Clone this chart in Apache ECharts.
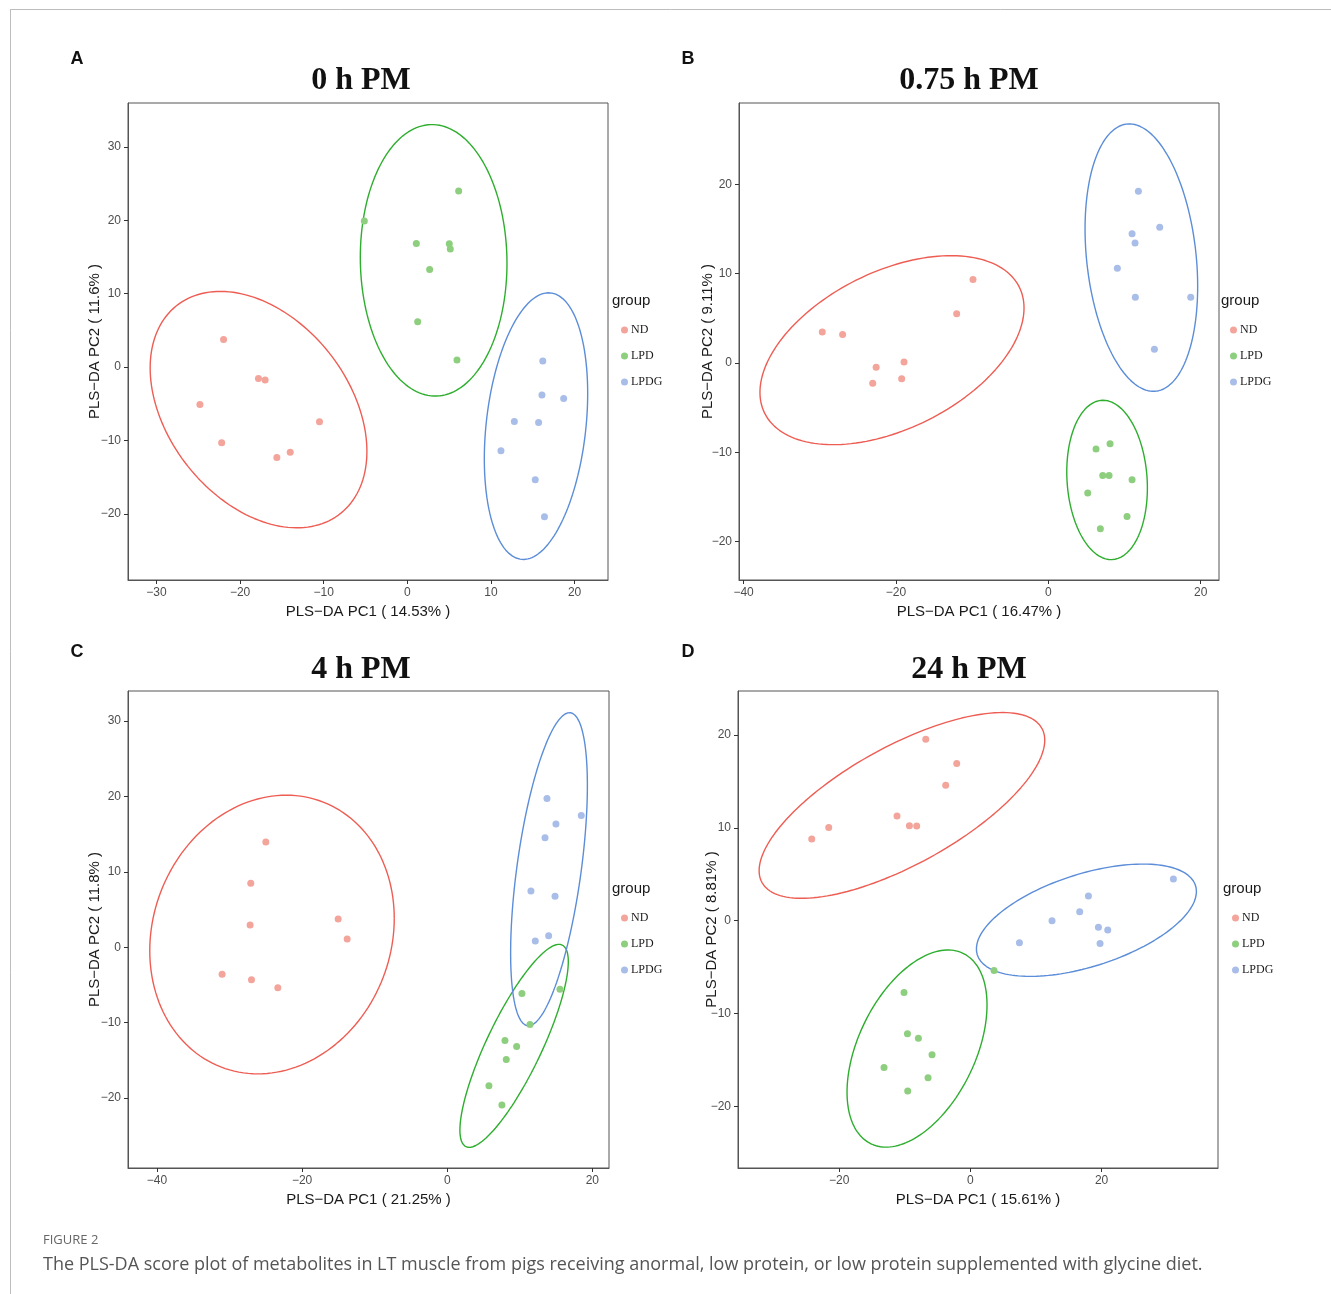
<!DOCTYPE html>
<html>
<head>
<meta charset="utf-8">
<script src="https://cdn.jsdelivr.net/npm/echarts@6/dist/echarts.min.js"></script>
<style>
html,body{margin:0;padding:0;background:#fff;}
#c{width:1331px;height:1294px;}
</style>
</head>
<body>
<div id="c"></div>
<script>
// ---------- DATA ----------
const groups = ['ND', 'LPD', 'LPDG'];
const panelTitles = ['0 h PM', '0.75 h PM', '4 h PM', '24 h PM'];
const panelLetters = ['A', 'B', 'C', 'D'];
const xNames = ['PLS\u2212DA PC1 ( 14.53% )', 'PLS\u2212DA PC1 ( 16.47% )', 'PLS\u2212DA PC1 ( 21.25% )', 'PLS\u2212DA PC1 ( 15.61% )'];
const yNames = ['PLS\u2212DA PC2 ( 11.6% )', 'PLS\u2212DA PC2 ( 9.11% )', 'PLS\u2212DA PC2 ( 11.8% )', 'PLS\u2212DA PC2 ( 8.81% )'];

// tick labels
const xTicksA = [-30, -20, -10, 0, 10, 20];
const yTicksA = [-20, -10, 0, 10, 20, 30];
const xTicksB = [-40, -20, 0, 20];
const yTicksB = [-20, -10, 0, 10, 20];
const xTicksC = [-40, -20, 0, 20];
const yTicksC = [-20, -10, 0, 10, 20, 30];
const xTicksD = [-20, 0, 20];
const yTicksD = [-20, -10, 0, 10, 20];

// axis ranges [min, max]
const xRangeA = [-33.4, 24.0], yRangeA = [-29.0, 35.97];
const xRangeB = [-40.6, 22.4], yRangeB = [-24.3, 29.1];
const xRangeC = [-44.0, 22.3], yRangeC = [-29.26, 33.97];
const xRangeD = [-35.43, 37.74], yRangeD = [-26.65, 24.75];

// Panel A: 0 h PM
const ND_A = [[-21.97, 3.77], [-17.8, -1.54], [-17.0, -1.77], [-24.8, -5.08], [-22.2, -10.3], [-15.6, -12.3], [-14.0, -11.6], [-10.5, -7.45]];
const LPD_A = [[-5.14, 19.9], [6.14, 24.0], [1.08, 16.85], [5.02, 16.8], [5.14, 16.1], [2.67, 13.3], [1.24, 6.17], [5.94, 0.95]];
const LPDG_A = [[16.2, 0.82], [16.1, -3.81], [18.7, -4.27], [12.8, -7.4], [15.7, -7.54], [11.2, -11.4], [15.3, -15.35], [16.4, -20.4]];
// Panel B: 0.75 h PM
const ND_B = [[-29.67, 3.47], [-27.0, 3.17], [-22.6, -0.49], [-23.05, -2.28], [-18.94, 0.11], [-19.25, -1.76], [-12.03, 5.52], [-9.89, 9.33]];
const LPD_B = [[8.1, -9.04], [6.26, -9.63], [7.14, -12.59], [7.97, -12.59], [10.99, -13.07], [5.17, -14.56], [10.33, -17.18], [6.83, -18.56]];
const LPDG_B = [[11.82, 19.22], [14.62, 15.19], [10.99, 14.45], [11.38, 13.44], [9.06, 10.6], [11.42, 7.35], [18.69, 7.35], [13.92, 1.53]];
// Panel C: 4 h PM
const ND_C = [[-25.0, 13.94], [-27.08, 8.47], [-27.17, 2.95], [-15.03, 3.75], [-13.79, 1.1], [-31.03, -3.57], [-26.98, -4.29], [-23.35, -5.35]];
const LPD_C = [[10.3, -6.14], [15.54, -5.56], [11.41, -10.25], [7.96, -12.37], [9.57, -13.16], [8.14, -14.88], [5.75, -18.36], [7.54, -20.92]];
const LPDG_C = [[13.75, 19.73], [18.48, 17.48], [14.99, 16.33], [13.48, 14.51], [11.54, 7.45], [14.86, 6.75], [13.98, 1.54], [12.14, 0.83]];
// Panel D: 24 h PM
const ND_D = [[-6.81, 19.55], [-2.09, 16.94], [-3.77, 14.6], [-11.19, 11.27], [-9.3, 10.22], [-8.19, 10.19], [-21.6, 10.05], [-24.19, 8.79]];
const LPD_D = [[3.6, -5.38], [-10.12, -7.75], [-9.6, -12.19], [-7.93, -12.66], [-5.85, -14.45], [-13.17, -15.82], [-6.46, -16.93], [-9.56, -18.36]];
const LPDG_D = [[30.94, 4.49], [17.99, 2.66], [16.66, 0.97], [12.44, 0.0], [19.51, -0.71], [20.93, -1.0], [19.76, -2.47], [7.47, -2.37]];

// 95% confidence ellipses:
// [centerX, centerY, half-width, half-height, y-offset of rightmost point]
const ellND_A = [-17.79, -5.79, 12.96, 16.1, -5.68];
const ellLPD_A = [3.15, 14.54, 8.77, 18.49, -0.41];
const ellLPDG_A = [15.39, -8.04, 6.18, 18.16, 4.45];
const ellND_B = [-20.52, 1.43, 17.33, 10.58, 4.72];
const ellLPD_B = [7.71, -13.1, 5.29, 8.92, -0.9];
const ellLPDG_B = [12.21, 11.79, 7.39, 14.97, -3.21];
const ellND_C = [-24.15, 1.69, 16.85, 18.47, 2.14];
const ellLPD_C = [9.22, -13.07, 7.47, 13.46, 11.17];
const ellLPDG_C = [14.03, 10.34, 5.29, 20.76, 11.1];
const ellND_D = [-10.44, 12.42, 21.77, 10.01, 7.03];
const ellLPD_D = [-8.14, -13.78, 10.67, 10.62, 4.7];
const ellLPDG_D = [17.68, 0.05, 16.77, 6.05, 3.1];

// ---------- STYLE ----------
const pointColors = { ND: '#F3A49B', LPD: '#8ECF7F', LPDG: '#A9BDE9' };
const ellipseColors = { ND: '#EE5D53', LPD: '#2EAE2E', LPDG: '#5B8DD8' };

const panels = [
  { grid: { left: 128, top: 103, width: 480, height: 477 }, xr: xRangeA, yr: yRangeA, xt: xTicksA, yt: yTicksA, yGap: 26,
    pts: [ND_A, LPD_A, LPDG_A], ell: [ellND_A, ellLPD_A, ellLPDG_A], title: [361, 81], letter: [77, 59], leg: [612, 300] },
  { grid: { left: 739, top: 103, width: 480, height: 477 }, xr: xRangeB, yr: yRangeB, xt: xTicksB, yt: yTicksB, yGap: 24,
    pts: [ND_B, LPD_B, LPDG_B], ell: [ellND_B, ellLPD_B, ellLPDG_B], title: [969, 81], letter: [688, 59], leg: [1221, 300] },
  { grid: { left: 128, top: 691, width: 481, height: 477 }, xr: xRangeC, yr: yRangeC, xt: xTicksC, yt: yTicksC, yGap: 26,
    pts: [ND_C, LPD_C, LPDG_C], ell: [ellND_C, ellLPD_C, ellLPDG_C], title: [361, 670], letter: [77, 652], leg: [612, 888] },
  { grid: { left: 738, top: 691, width: 480, height: 477 }, xr: xRangeD, yr: yRangeD, xt: xTicksD, yt: yTicksD, yGap: 19,
    pts: [ND_D, LPD_D, LPDG_D], ell: [ellND_D, ellLPD_D, ellLPDG_D], title: [969, 670], letter: [688, 652], leg: [1223, 888] }
];

function ellipsePath(p) {
  const [cx, cy, a, h, b] = p;
  const d = Math.sqrt(Math.max(h * h - b * b, 0));
  const out = [];
  const n = 160;
  for (let i = 0; i <= n; i++) {
    const t = (i / n) * 2 * Math.PI;
    out.push([cx + a * Math.cos(t), cy + b * Math.cos(t) + d * Math.sin(t)]);
  }
  return out;
}

const fmt = v => (v < 0 ? '\u2212' + Math.abs(v) : String(v));
const sans = 'Liberation Sans, Arial, sans-serif';
const serif = 'Liberation Serif, Times New Roman, serif';

const grids = [], xAxes = [], yAxes = [], series = [], legends = [], graphics = [];

panels.forEach((P, i) => {
  grids.push(Object.assign({ show: true, borderColor: '#555', borderWidth: 1, backgroundColor: '#fff', containLabel: false }, P.grid));
  const common = {
    gridIndex: i, type: 'value', splitLine: { show: false },
    axisLine: { show: true, onZero: false, lineStyle: { color: '#555', width: 1 } },
    axisTick: { show: true, inside: false, length: 4, lineStyle: { color: '#333', width: 1 } },
    axisLabel: { color: '#4d4d4d', fontSize: 12, fontFamily: sans, formatter: fmt },
    nameLocation: 'middle', nameMoveOverlap: false,
    nameTextStyle: { color: '#1a1a1a', fontSize: 15, fontFamily: sans }
  };
  xAxes.push(Object.assign({}, common, {
    min: P.xr[0], max: P.xr[1], name: xNames[i], nameGap: 24, position: 'bottom',
    axisTick: Object.assign({}, common.axisTick, { customValues: P.xt }),
    axisLabel: Object.assign({}, common.axisLabel, { customValues: P.xt, margin: 7 })
  }));
  yAxes.push(Object.assign({}, common, {
    min: P.yr[0], max: P.yr[1], name: yNames[i], nameGap: P.yGap, position: 'left',
    axisTick: Object.assign({}, common.axisTick, { customValues: P.yt }),
    axisLabel: Object.assign({}, common.axisLabel, { customValues: P.yt, margin: 7 })
  }));
  groups.forEach((g, k) => {
    series.push({
      type: 'line', name: g + ' ellipse', xAxisIndex: i, yAxisIndex: i,
      data: ellipsePath(P.ell[k]), showSymbol: false, symbol: 'none', smooth: false, silent: true,
      lineStyle: { color: ellipseColors[g], width: 1.4 }, z: 2, animation: false
    });
  });
  groups.forEach((g, k) => {
    series.push({
      type: 'scatter', name: g, xAxisIndex: i, yAxisIndex: i,
      data: P.pts[k], symbolSize: 7, itemStyle: { color: pointColors[g], opacity: 1 }, z: 3, animation: false
    });
  });
  legends.push({
    data: groups, orient: 'vertical', left: P.leg[0] + 4, top: P.leg[1] + 19,
    icon: 'circle', itemWidth: 7, itemHeight: 7, itemGap: 14, selectedMode: false,
    textStyle: { fontFamily: serif, fontSize: 12, color: '#1a1a1a', padding: [0, 0, 0, -2] }
  });
  graphics.push({ type: 'text', left: P.leg[0], top: P.leg[1] - 7,
    style: { text: 'group', fontFamily: sans, fontSize: 15, fill: '#1a1a1a' } });
  graphics.push({ type: 'text', x: P.title[0], y: P.title[1],
    style: { text: panelTitles[i], fontFamily: serif, fontSize: 32, fontWeight: 'bold', fill: '#111', align: 'center', verticalAlign: 'middle' } });
  graphics.push({ type: 'text', x: P.letter[0], y: P.letter[1],
    style: { text: panelLetters[i], fontFamily: sans, fontSize: 18, fontWeight: 'bold', fill: '#111', align: 'center', verticalAlign: 'middle' } });
});

// frame & caption
graphics.push({ type: 'line', shape: { x1: 10, y1: 9.5, x2: 1331, y2: 9.5 }, style: { stroke: '#bdbdbd', lineWidth: 1 } });
graphics.push({ type: 'line', shape: { x1: 10.5, y1: 9, x2: 10.5, y2: 1294 }, style: { stroke: '#bdbdbd', lineWidth: 1 } });
graphics.push({ type: 'text', left: 43, top: 1234,
  style: { text: 'FIGURE 2', fontFamily: 'Open Sans, sans-serif', fontSize: 13, fill: '#666' } });
graphics.push({ type: 'text', left: 43, top: 1256,
  style: { text: 'The PLS-DA score plot of metabolites in LT muscle from pigs receiving anormal, low protein, or low protein supplemented with glycine diet.', fontFamily: 'Open Sans, sans-serif', fontSize: 18, fill: '#555' } });

const chart = echarts.init(document.getElementById('c'), null, { renderer: 'canvas' });
chart.setOption({
  backgroundColor: '#fff',
  animation: false,
  grid: grids,
  xAxis: xAxes,
  yAxis: yAxes,
  legend: legends,
  series: series,
  graphic: graphics
});
</script>
</body>
</html>
